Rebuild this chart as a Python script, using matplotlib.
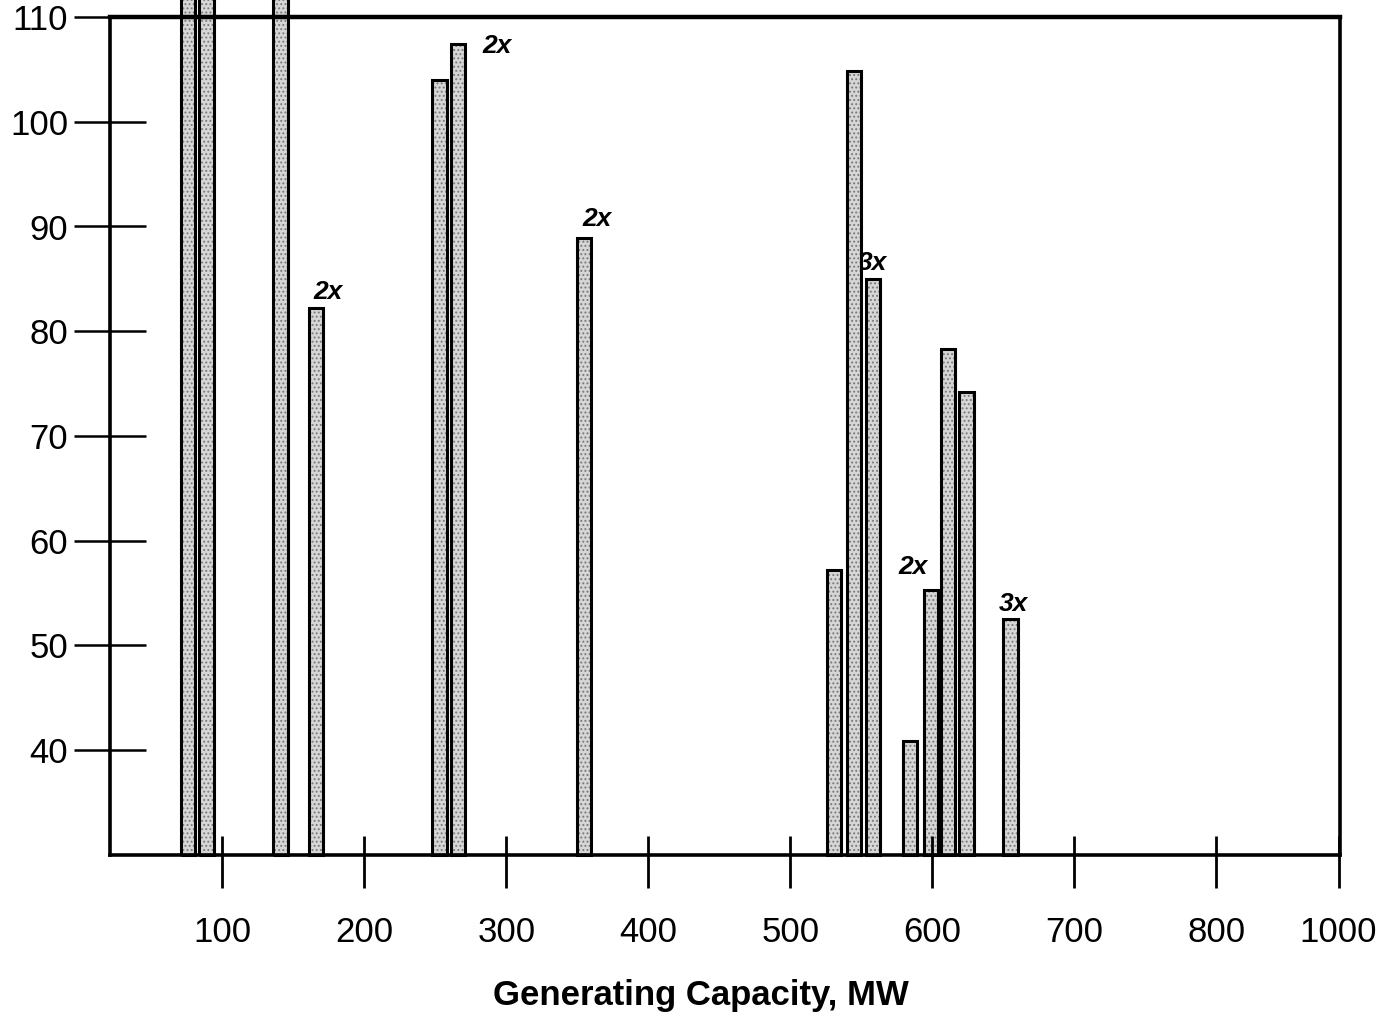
"""Heat rate vs generating capacity bar chart (scanned figure recreation)."""

from matplotlib import pyplot as plt

plt.switch_backend("Agg")
plt.rcParams["font.family"] = ["Liberation Sans", "DejaVu Sans"]
plt.rcParams["hatch.linewidth"] = 0.9

# unit capacities (MW) and values; first three run off the top
capacity_mw = [76, 89, 141, 166, 253, 266, 355, 531, 545, 558, 584, 599, 611, 624, 655]
values = [112, 112, 112, 82.2, 104.0, 107.4, 88.9, 57.2, 104.8, 85.0, 40.9, 55.3, 78.3, 74.2, 52.5]
bar_width = 10

# multiplicity labels: bar index -> text
unit_labels = {3: "2x", 5: "2x", 6: "2x", 9: "3x", 11: "2x", 14: "3x"}
label_offsets = {3: (12, 16), 5: (39, -2), 6: (13, 19), 9: (0, 16), 11: (-18, 23), 14: (3, 15)}

x_ticks = [100, 200, 300, 400, 500, 600, 700, 800, 886]
x_tick_labels = ["100", "200", "300", "400", "500", "600", "700", "800", "1000"]
y_ticks = [40, 50, 60, 70, 80, 90, 100, 110]

fig = plt.figure(figsize=(13.84, 10.21), dpi=100)
ax = fig.add_axes([110 / 1384, 1 - 855 / 1021, 1230 / 1384, 838 / 1021])

base = 30
heights = [v - base for v in values]
# stipple fill, then black outline on top
ax.bar(capacity_mw, heights, width=bar_width, bottom=base, color="#d6d6d6",
       edgecolor="#7a7a7a", hatch="....", linewidth=0, clip_on=False, zorder=2)
ax.bar(capacity_mw, heights, width=bar_width, bottom=base, fill=False,
       edgecolor="black", linewidth=2.2, clip_on=False, zorder=3)

for i, txt in unit_labels.items():
    ax.annotate(txt, xy=(capacity_mw[i], values[i]), xytext=label_offsets[i],
                textcoords="offset pixels", ha="center", va="center",
                fontsize=19, fontweight="bold", fontstyle="italic", zorder=1)

ax.set_xlim(21, 887)
ax.set_ylim(30, 110)

ax.set_yticks(y_ticks)
ax.set_yticklabels([str(t) for t in y_ticks])
ax.tick_params(axis="y", direction="inout", length=52, width=1.8, pad=4, labelsize=25)

ax.set_xticks(x_ticks)
ax.set_xticklabels(x_tick_labels)
ax.tick_params(axis="x", direction="out", length=24, width=2, pad=20, labelsize=25)
# short inner stubs of the x ticks
ax.vlines(x_ticks, 30, 31.8, color="black", linewidth=2, zorder=4)

for side in ["left", "right", "top", "bottom"]:
    ax.spines[side].set_linewidth(2.6)
ax.spines["top"].set_linewidth(3.2)

ax.set_xlabel("Generating Capacity, MW", fontsize=25, fontweight="bold", va="center")
ax.xaxis.set_label_coords(0.48, -0.168)

fig.savefig("out.png", dpi=100)
